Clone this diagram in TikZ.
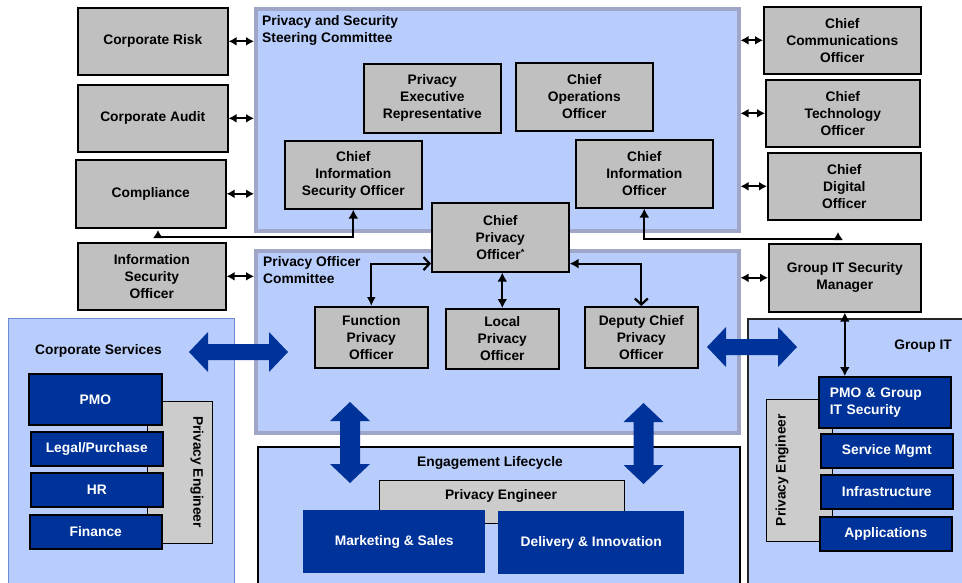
\documentclass[tikz,border=0pt]{standalone}
\usepackage{fontspec}
\setmainfont{Liberation Sans}
\usetikzlibrary{arrows.meta}
\definecolor{lblue}{RGB}{184,205,252}
\definecolor{cborder}{RGB}{160,166,200}
\definecolor{csborder}{RGB}{110,140,210}
\definecolor{gfill}{RGB}{192,192,192}
\definecolor{pefill}{RGB}{204,204,204}
\definecolor{dblue}{RGB}{0,51,153}
\begin{document}
\begin{tikzpicture}[x=1pt,y=-1pt,
  every node/.style={font=\fontsize{13.8}{17}\selectfont\bfseries},
  box/.style={anchor=north west,inner sep=1pt,align=center},
  gbox/.style={box,fill=gfill,draw=black,line width=1.6pt},
  bbox/.style={box,fill=dblue,draw=black,line width=1.6pt,text=white},
  bboxnb/.style={box,fill=dblue,text=white},
  pebox/.style={box,fill=pefill,draw=black,line width=1.2pt},
  committee/.style={box,fill=lblue,draw=cborder,line width=3.5pt},
  title/.style={inner sep=0pt,align=left},
  sarrow/.style={line width=2pt,{Latex[length=8pt,width=9pt]}-{Latex[length=8pt,width=9pt]}},
  conn/.style={line width=2.2pt},
  pics/dbarrow/.style n args={2}{code={
    \fill[dblue] (-#1,0) -- (-#1+19,-20) -- (-#1+19,-#2) -- (#1-19,-#2) -- (#1-19,-20) -- (#1,0)
      -- (#1-19,20) -- (#1-19,#2) -- (-#1+19,#2) -- (-#1+19,20) -- cycle;}}
]
\useasboundingbox (0,0) rectangle (962,582);

% containers
\node[box,fill=lblue,draw=csborder,line width=1.2pt,minimum width=226pt,minimum height=280pt] (CS) at (8,318) {};
\node[box,fill=lblue,draw=black!85,line width=1.8pt,minimum width=230pt,minimum height=280pt] (GIT) at (747,318) {};
\node[box,fill=lblue,draw=black,line width=2pt,minimum width=482pt,minimum height=150pt] (EL) at (257,446) {};
\node[committee,minimum width=483pt,minimum height=222pt] (SC) at (254,7) {};
\node[committee,minimum width=483pt,minimum height=182pt] (POC) at (254,249) {};

% titles
\node[title,anchor=west] (SCt) at (262,30.5) {Privacy and Security\\Steering Committee};
\node[title,anchor=west] (POCt) at (263,270.5) {Privacy Officer\\Committee};
\node[title,anchor=west] (CSt) at (35,351) {Corporate Services};
\node[title,anchor=east] (GITt) at (952,346) {Group IT};
\node[title] (ELt) at (490,463) {Engagement Lifecycle};

% privacy engineer boxes
\node[pebox,minimum width=65pt,minimum height=142pt] (csPE) at (147,401) {};
\node[title,rotate=-90] (csPEt) at (197,472) {Privacy Engineer};
\node[pebox,minimum width=66pt,minimum height=142pt] (gPE) at (766,399) {};
\node[title,rotate=90] (gPEt) at (782,470) {Privacy Engineer};
\node[pebox,minimum width=245pt,minimum height=43pt] (ePE) at (379,480) {};
\node[title] (ePEt) at (501,496) {Privacy Engineer};

% dark blue boxes
\node[bbox,minimum width=133pt,minimum height=51pt] (PMO) at (28,373) {PMO};
\node[bbox,minimum width=132pt,minimum height=34pt] (LP) at (30,431) {Legal/Purchase};
\node[bbox,minimum width=132pt,minimum height=34pt] (HR) at (30,472) {HR};
\node[bbox,minimum width=132pt,minimum height=34pt] (FIN) at (29,514) {Finance};
\node[bbox,text width=110pt,inner xsep=11pt,align=left,minimum height=51pt] (PMOG) at (818,376) {PMO \& Group\\IT Security};
\node[bbox,minimum width=132pt,minimum height=34pt] (SM) at (820,433) {Service Mgmt};
\node[bbox,minimum width=132pt,minimum height=34pt] (INF) at (820,474) {Infrastructure};
\node[bbox,minimum width=132pt,minimum height=34pt] (APP) at (819,516) {Applications};
\node[bboxnb,minimum width=182pt,minimum height=63pt] (MS) at (303,510) {Marketing \& Sales};
\node[bboxnb,minimum width=186pt,minimum height=63pt] (DI) at (498,511) {Delivery \& Innovation};

% grey boxes
\node[gbox,minimum width=150pt,minimum height=67pt] (CR) at (77,7) {Corporate Risk};
\node[gbox,minimum width=150pt,minimum height=67pt] (CA) at (77,84) {Corporate Audit};
\node[gbox,minimum width=150pt,minimum height=68pt] (CO) at (75,159) {Compliance};
\node[gbox,minimum width=148pt,minimum height=67pt] (ISO) at (77,242) {Information\\Security\\Officer};
\node[gbox,minimum width=157pt,minimum height=67pt] (CCO) at (763,6) {Chief\\Communications\\Officer};
\node[gbox,minimum width=154pt,minimum height=67pt] (CTO) at (765,79) {Chief\\Technology\\Officer};
\node[gbox,minimum width=153pt,minimum height=67pt] (CDO) at (767,152) {Chief\\Digital\\Officer};
\node[gbox,minimum width=152pt,minimum height=68pt] (GITSM) at (768,243) {Group IT Security\\Manager};
\node[gbox,minimum width=137pt,minimum height=69pt] (PER) at (363,63) {Privacy\\Executive\\Representative};
\node[gbox,minimum width=137pt,minimum height=68pt] (COO) at (515,62) {Chief\\Operations\\Officer};
\node[gbox,minimum width=137pt,minimum height=68pt] (CISO) at (284,140) {Chief\\Information\\Security Officer};
\node[gbox,minimum width=137pt,minimum height=68pt] (CIO) at (575,139) {Chief\\Information\\Officer};
\node[gbox,minimum width=137pt,minimum height=69pt] (CPO) at (431,202) {Chief\\Privacy\\Officer{\fontsize{9}{9}\selectfont\raisebox{4pt}{*}}};
\node[gbox,minimum width=113pt,minimum height=61pt] (FPO) at (314,306) {Function\\Privacy\\Officer};
\node[gbox,minimum width=113pt,minimum height=60pt] (LPO) at (445,308) {Local\\Privacy\\Officer};
\node[gbox,minimum width=113pt,minimum height=61pt] (DPO) at (584,306) {Deputy Chief\\Privacy\\Officer};

% small double arrows
\draw[sarrow] (CR.east) -- (CR.east -| SC.west);
\draw[sarrow] (CA.east) -- (CA.east -| SC.west);
\draw[sarrow] (CO.east) -- (CO.east -| SC.west);
\draw[sarrow] (ISO.east) -- (ISO.east -| POC.west);
\draw[sarrow] (CCO.west) -- (CCO.west -| SC.east);
\draw[sarrow] (CTO.west) -- (CTO.west -| SC.east);
\draw[sarrow] (CDO.west) -- (CDO.west -| SC.east);
\draw[sarrow] (GITSM.west) -- (GITSM.west -| POC.east);

% connectors
\coordinate (lc) at (158,237);
\coordinate (lt) at (158,230);
\coordinate (rc) at (838,239);
\coordinate (rt) at (838,232);
\draw[conn,{Latex[length=9pt,width=10pt]}-{Latex[length=8pt,width=10pt]}] (CISO.south) |- (lc) -- (lt);
\draw[conn,{Latex[length=9pt,width=10pt]}-{Latex[length=8pt,width=10pt]}] (CIO.south) |- (rc) -- (rt);
\draw[conn,{Latex[length=9pt,width=9pt]}-{Straight Barb[length=6pt,width=13pt]}] (FPO.north) |- ([yshift=9pt]CPO.south west);
\draw[conn,{Latex[length=9pt,width=10pt]}-{Straight Barb[length=6pt,width=13pt]}] ([yshift=9pt]CPO.south east) -| (DPO.north);
\draw[conn,{Latex[length=9pt,width=10pt]}-{Latex[length=9pt,width=10pt]}] (LPO.north |- CPO.south) -- (LPO.north);
\draw[conn,{Latex[length=9pt,width=10pt]}-{Latex[length=9pt,width=10pt]}] (GITSM.south) -- (GITSM.south |- PMOG.north);

% big double arrows
\pic at (238.5,352) {dbarrow={49.5}{8}};
\pic at (752,347) {dbarrow={45}{8}};
\pic[rotate=90] at (350,442.5) {dbarrow={40.5}{10}};
\pic[rotate=90] at (643.5,443.5) {dbarrow={40.5}{10}};
\end{tikzpicture}
\end{document}
